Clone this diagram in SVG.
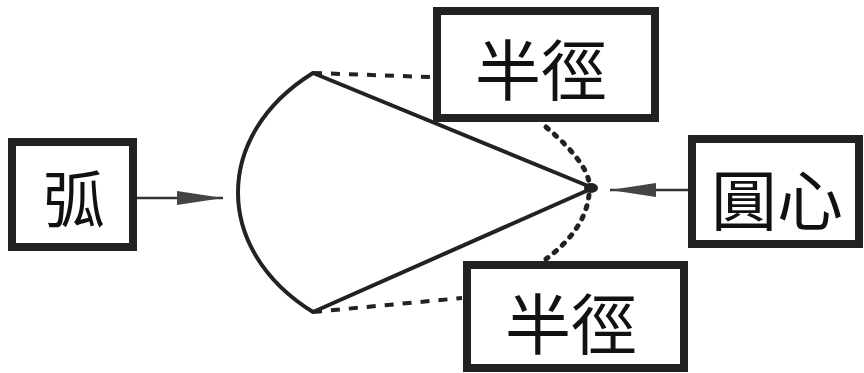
<svg xmlns="http://www.w3.org/2000/svg" width="864" height="373" viewBox="0 0 864 373">
<defs>
<style>
.box{fill:#fff;stroke:#222;stroke-width:8}
.lbl{font-family:"Noto Sans CJK TC","Noto Sans CJK SC",sans-serif;fill:#111;text-anchor:middle;dominant-baseline:central}
.solid{fill:none;stroke:#222;stroke-width:4;stroke-linejoin:round}
.dash{fill:none;stroke:#222;stroke-width:4;stroke-dasharray:9 9}
.dot{fill:none;stroke:#222;stroke-width:5;stroke-dasharray:3 8;stroke-linecap:round}
.arr{fill:none;stroke:#333;stroke-width:2.5}
</style>
<marker id="ah" viewBox="0 0 46 16" refX="46" refY="8" markerWidth="46" markerHeight="16" markerUnits="userSpaceOnUse" orient="auto">
<path d="M0,1 L46,8 L0,15 Z" fill="#444"/>
</marker>
</defs>
<rect width="864" height="373" fill="#fff"/>
<g id="connectors">
<path class="solid" d="M313,73 C213,135 213,250 313,312 L593,188 Z"/>
<ellipse cx="591" cy="188" rx="7" ry="5" fill="#222"/>
<path class="dash" d="M313,73 L430,77"/>
<path class="dash" d="M313,312 L462,298"/>
<path class="dot" d="M546,127 Q585,160 589,182"/>
<path class="dot" d="M589,195 Q585,230 546,259"/>
<line class="arr" x1="137" y1="198" x2="223" y2="198" marker-end="url(#ah)"/>
<line class="arr" x1="688" y1="190" x2="610" y2="190" marker-end="url(#ah)"/>
</g>
<g id="arc-node">
<rect class="box" x="12" y="142" width="121" height="105"/>
<text class="lbl" x="74" y="196" font-size="62">弧</text>
</g>
<g id="radius-top">
<rect class="box" x="437" y="11" width="218" height="107"/>
<text class="lbl" x="541" y="66" font-size="66">半徑</text>
</g>
<g id="center-node">
<rect class="box" x="692" y="139" width="167" height="105"/>
<text class="lbl" x="777" y="196" font-size="66">圓心</text>
</g>
<g id="radius-bottom">
<rect class="box" x="467" y="265" width="217" height="103"/>
<text class="lbl" x="571" y="320" font-size="66">半徑</text>
</g>
</svg>
